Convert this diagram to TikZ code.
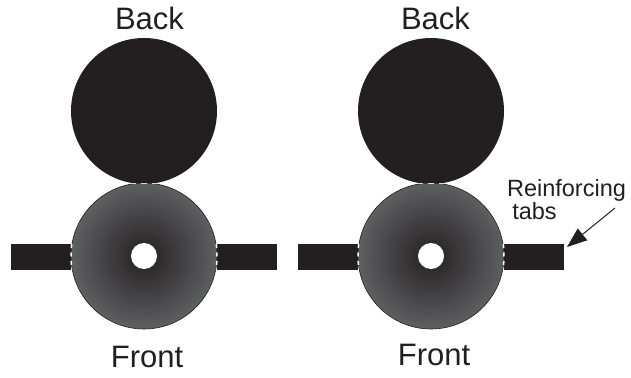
\documentclass[tikz,border=0pt]{standalone}
\usepackage{fontspec}
\setmainfont{Liberation Sans}
\usetikzlibrary{arrows.meta}
\definecolor{ink}{HTML}{231F20}
\definecolor{rimc}{HTML}{5E5F61}
\tikzset{
  x=1pt,y=-1pt,
  backdisc/.style={circle,fill=ink,draw=none,minimum size=146pt,inner sep=0pt,outer sep=0pt},
  frontdisc/.style={circle,inner color=ink,outer color=rimc,draw=ink,line width=.6pt,minimum size=146pt,inner sep=0pt,outer sep=0pt},
  hole/.style={circle,fill=white,minimum size=26pt,inner sep=0pt},
  tabbox/.style={fill=ink,minimum width=60pt,minimum height=26pt,inner sep=0pt,outer sep=0pt},
  title/.style={font=\fontsize{31pt}{33pt}\selectfont,text=ink,inner sep=0pt,anchor=base},
  seam/.style={white!85!black,line width=1.5pt,dash pattern=on 5.5pt off 5.5pt},
  sideseam/.style={white,line width=1.5pt,dash pattern=on 4pt off 4.5pt},
  note/.style={font=\fontsize{23.5pt}{26pt}\selectfont,text=ink,inner sep=0pt,anchor=base},
}
\begin{document}
\begin{tikzpicture}
\useasboundingbox (0,0) rectangle (631,377);
% left
\node[tabbox] (tl1) at (41,257) {};
\node[tabbox] (tr1) at (247,257) {};
\node[backdisc] (b1) at (144,111) {};
\node[frontdisc] (f1) at (144,256) {};
\node[hole] (h1) at (144,256) {};
\node[title] (tb1) at (149.5,30) {Back};
\node[title] (tf1) at (147,367) {Front};
% right
\node[tabbox] (tl2) at (328,257) {};
\node[tabbox] (tr2) at (534,257) {};
\node[backdisc] (b2) at (431,111) {};
\node[frontdisc] (f2) at (431,256) {};
\node[hole] (h2) at (431,256) {};
\node[title] (tb2) at (435.5,30) {Back};
\node[title] (tf2) at (434,365) {Front};
% seams
\foreach \c in {144,431}{
  \draw[seam] (\c-14,183.7) -- (\c+14,183.7);
  \draw[sideseam] (\c-72.4,244) -- (\c-73,257) -- (\c-72.4,270);
  \draw[sideseam] (\c+72.4,244) -- (\c+73,257) -- (\c+72.4,270);
}
% label
\node[note] (lab1) at (566.5,196) {Reinforcing};
\node[note] (lab2) at (534.5,219) {tabs};
\coordinate (from) at (615,208);
\coordinate (tip) at (567,247);
\draw[ink,line width=1pt,-{Triangle[length=20pt,width=15pt]}] (from) -- (tip);
\end{tikzpicture}
\end{document}
